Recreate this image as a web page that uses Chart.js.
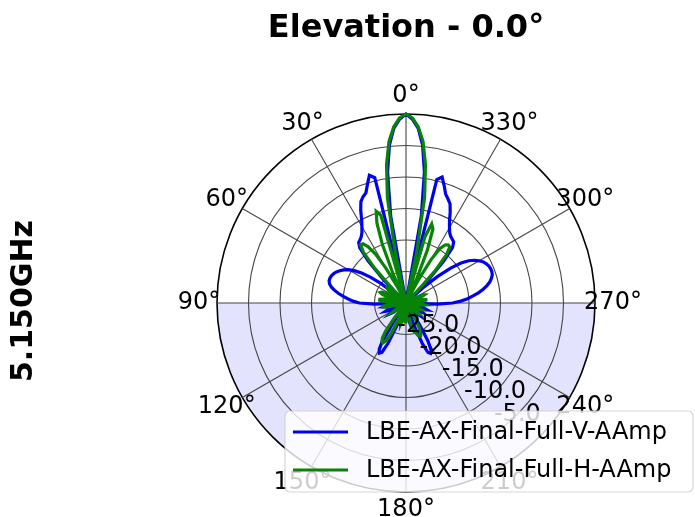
<!DOCTYPE html>
<html>
<head>
<meta charset="utf-8">
<script src="https://cdn.jsdelivr.net/npm/chart.js@4.4.0/dist/chart.umd.min.js"></script>
<style>
  html, body { margin: 0; padding: 0; background: #ffffff; }
  #wrap { width: 695px; height: 517px; }
</style>
</head>
<body>
<div id="wrap"><canvas id="pattern" width="695" height="517"></canvas></div>
<script>
// Azimuth samples (degrees, counter-clockwise from the top), one every 2 degrees.
const angleStep = 2;
const azimuthDeg = Array.from({ length: 360 / angleStep }, (_, i) => i * angleStep);

// Labelled azimuth directions and radial rings (dB).
const angleTicks = [0, 30, 60, 90, 120, 150, 180, 210, 240, 270, 300, 330];
const radialTicks = [-25, -20, -15, -10, -5];

const seriesNames = ['LBE-AX-Final-Full-V-AAmp', 'LBE-AX-Final-Full-H-AAmp'];

// Normalised gain, dB, for azimuth 0, 2, 4 ... 358.
const gainV = [
  0, -0.8, -2.2, -4.8, -9, -16, -30, -9.5, -8.9, -10.2,
  -11.4, -11.8, -12.4, -13.6, -15, -16, -16.8, -17.3, -17.6, -17.8,
  -18.6, -21, -25, -30, -30, -28, -25, -23, -21.5, -20.3,
  -19.4, -18.8, -18.3, -17.9, -17.6, -17.4, -17.3, -17.3, -17.5, -17.9,
  -18.5, -19.2, -20, -20.8, -21.6, -22.6, -25, -30, -28, -27,
  -26.5, -27, -28, -30, -28, -27, -26.5, -27, -28, -30,
  -28.5, -27.5, -27, -27.5, -28.5, -30, -30, -30, -30, -30,
  -30, -30, -30, -26, -23, -21.5, -21, -21.3, -23, -26,
  -30, -29, -27.5, -27, -27, -27.5, -28.5, -30, -30, -30,
  -30, -30, -30, -28.5, -27.5, -27, -27.5, -28.5, -30, -30,
  -26, -23, -21.4, -21.1, -21.5, -23, -26, -30, -30, -30,
  -30, -30, -28.5, -27.5, -27, -27.5, -28.5, -30, -28.5, -27.5,
  -27, -27.5, -28.5, -30, -28, -27, -26.5, -27, -28, -30,
  -28, -27, -28, -30, -25, -22.6, -21.3, -20.2, -19.3, -18.4,
  -17.6, -16.9, -16.3, -15.9, -15.6, -15.5, -15.5, -15.6, -15.8, -16.1,
  -16.6, -17.2, -18, -19.2, -21, -23.5, -26.5, -30, -25, -21,
  -18.5, -17.7, -17.5, -17.3, -16.9, -16.2, -15.3, -14, -12.8, -12.2,
  -11.6, -10.4, -9.2, -9.8, -30, -16, -9, -4.8, -2.2, -0.8
];

const gainH = [
  0, -0.6, -2, -4.2, -7.8, -13, -22, -30, -15.5, -14.7,
  -16.5, -20, -25, -30, -27, -23.5, -20.8, -19.2, -18.4, -18.3,
  -19.5, -22.5, -27, -30, -28.5, -27, -26.3, -26.5, -27.5, -29,
  -30, -28, -26.5, -25.8, -25.6, -26, -27, -28.5, -30, -28,
  -26.5, -25.8, -25.8, -26.5, -28, -30, -30, -28.5, -27, -26.3,
  -26.3, -27, -28.5, -30, -30, -30, -30, -30, -30, -30,
  -29, -28, -27.5, -28, -29, -30, -30, -30, -30, -30,
  -30, -27, -24.5, -23.3, -22.8, -22.7, -23.2, -24.5, -27, -30,
  -30, -28.5, -27, -26.5, -27, -28.5, -30, -28.5, -27.5, -27,
  -27, -27.5, -28.5, -30, -30, -28.5, -27, -26, -25.3, -25,
  -24.6, -24.3, -24.3, -24.6, -25.5, -27, -29, -30, -30, -30,
  -30, -30, -30, -28.5, -27.5, -27.3, -28, -29.5, -30, -30,
  -30, -28.5, -27.5, -27.3, -28, -29.5, -30, -30, -30, -30,
  -28.5, -27.5, -27, -27.5, -28.5, -30, -30, -28.5, -27.3, -26.8,
  -26.8, -27.3, -28.5, -30, -30, -28.5, -27.3, -26.8, -27, -28,
  -29.5, -30, -30, -30, -30, -30, -30, -30, -28, -23,
  -20, -18.7, -18.6, -18.9, -19.8, -22, -26, -30, -26, -21,
  -17.5, -16.8, -19, -30, -22, -13, -7.8, -4.2, -2, -0.6
];

// The radar scale runs clockwise from the top; azimuth runs counter-clockwise,
// so slot i of the chart holds azimuth (360 - i * step).
const n = azimuthDeg.length;
const slotToSample = azimuthDeg.map((_, i) => (n - i) % n);
const slotOfAngle = deg => (n - deg / angleStep) % n;

const FONT = 'DejaVu Sans';

// Lower half of the plot (90..270 deg) shaded.
const shadePlugin = {
  id: 'lowerHalfShade',
  beforeDraw(chart) {
    const { ctx } = chart;
    const r = chart.scales.r;
    ctx.save();
    ctx.fillStyle = '#ffffff';
    ctx.fillRect(0, 0, chart.width, chart.height);
    ctx.beginPath();
    ctx.moveTo(r.xCenter + r.drawingArea, r.yCenter);
    ctx.arc(r.xCenter, r.yCenter, r.drawingArea, 0, Math.PI, false);
    ctx.closePath();
    ctx.fillStyle = 'rgba(0, 0, 240, 0.11)';
    ctx.fill();
    ctx.restore();
  }
};

// Azimuth labels, radial dB labels, side label and the legend box.
const annotatePlugin = {
  id: 'annotations',
  afterDraw(chart) {
    const { ctx } = chart;
    const r = chart.scales.r;
    ctx.save();
    ctx.fillStyle = '#000000';
    ctx.textAlign = 'center';
    ctx.textBaseline = 'middle';

    ctx.font = `24px "${FONT}"`;
    angleTicks.forEach(deg => {
      const p = r.getPointPosition(slotOfAngle(deg), r.drawingArea + 18);
      ctx.fillText(deg + '\u00b0', p.x, p.y);
    });

    const labelDir = 225 * Math.PI / 180;
    radialTicks.forEach(v => {
      const d = r.getDistanceFromCenterForValue(v);
      const x = r.xCenter - Math.sin(labelDir) * d;
      const y = r.yCenter - Math.cos(labelDir) * d;
      ctx.fillText(v.toFixed(1), x, y);
    });

    ctx.font = `bold 30px "${FONT}"`;
    ctx.translate(24, r.yCenter - 2);
    ctx.rotate(-Math.PI / 2);
    ctx.fillText('5.150GHz', 0, 0);
    ctx.restore();

    // legend
    const box = { x: 285, y: 411, w: 408, h: 81 };
    ctx.save();
    ctx.beginPath();
    ctx.roundRect(box.x, box.y, box.w, box.h, 5);
    ctx.fillStyle = 'rgba(255, 255, 255, 0.8)';
    ctx.fill();
    ctx.strokeStyle = 'rgba(204, 204, 204, 0.8)';
    ctx.lineWidth = 1.2;
    ctx.stroke();
    ctx.font = `24px "${FONT}"`;
    ctx.textAlign = 'left';
    ctx.textBaseline = 'middle';
    chart.data.datasets.forEach((ds, k) => {
      const y = box.y + 21 + k * 38;
      ctx.beginPath();
      ctx.moveTo(box.x + 8, y);
      ctx.lineTo(box.x + 63, y);
      ctx.strokeStyle = ds.borderColor;
      ctx.lineWidth = 3;
      ctx.stroke();
      ctx.fillStyle = '#000000';
      ctx.fillText(ds.label, box.x + 81, y + 1);
    });
    ctx.restore();
  }
};

new Chart(document.getElementById('pattern'), {
  type: 'radar',
  data: {
    labels: slotToSample.map(k => azimuthDeg[k]),
    datasets: [
      {
        label: seriesNames[0],
        data: slotToSample.map(k => gainV[k]),
        borderColor: '#0000f0',
        borderWidth: 3.2,
        fill: false,
        order: 1
      },
      {
        label: seriesNames[1],
        data: slotToSample.map(k => gainH[k]),
        borderColor: '#078407',
        borderWidth: 3.2,
        fill: false,
        order: 0
      }
    ]
  },
  options: {
    responsive: false,
    animation: false,
    devicePixelRatio: 1,
    layout: { padding: { left: 217, right: 100, top: 0, bottom: 25 } },
    elements: { point: { radius: 0, hoverRadius: 0 }, line: { tension: 0 } },
    plugins: {
      legend: { display: false },
      tooltip: { enabled: false },
      title: {
        display: true,
        text: 'Elevation - 0.0\u00b0',
        color: '#000000',
        font: { family: FONT, size: 32, weight: 'bold' },
        padding: { top: 9, bottom: 66.6 }
      }
    },
    scales: {
      r: {
        min: -30,
        max: 0,
        startAngle: 0,
        ticks: { display: false, stepSize: 5 },
        pointLabels: { display: false },
        grid: {
          circular: true,
          color: ctx => (ctx.tick && ctx.tick.value === 0 ? '#000000' : '#454545'),
          lineWidth: ctx => (ctx.tick && ctx.tick.value === 0 ? 1.6 : 1.1)
        },
        angleLines: {
          color: ctx => (angleTicks.includes(azimuthDeg[slotToSample[ctx.index]]) ? '#454545' : 'rgba(0,0,0,0)'),
          lineWidth: ctx => (angleTicks.includes(azimuthDeg[slotToSample[ctx.index]]) ? 1.1 : 0)
        }
      }
    }
  },
  plugins: [shadePlugin, annotatePlugin]
});
</script>
</body>
</html>
